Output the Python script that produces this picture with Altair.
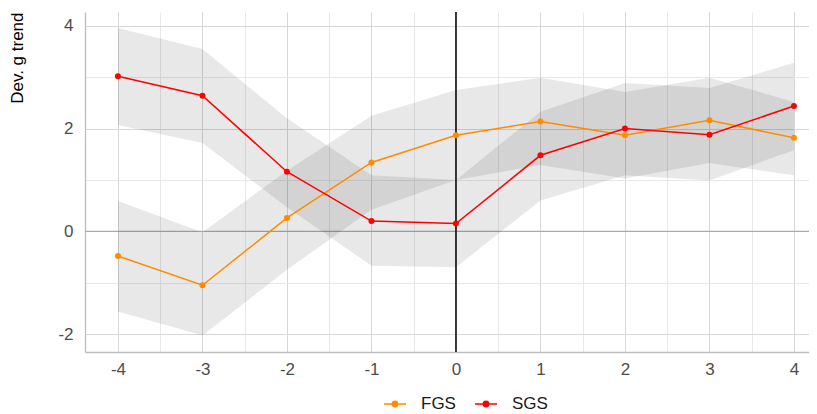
import altair as alt
import pandas as pd

# ---- data ----
periods = [-4, -3, -2, -1, 0, 1, 2, 3, 4]

fgs = [-0.48, -1.05, 0.26, 1.34, 1.87, 2.14, 1.87, 2.16, 1.82]
fgs_lo = [-1.56, -2.03, -0.75, 0.42, 1.00, 1.29, 1.03, 1.33, 1.09]
fgs_hi = [0.59, -0.02, 1.18, 2.25, 2.75, 2.99, 2.71, 2.99, 2.52]

sgs = [3.02, 2.64, 1.16, 0.20, 0.15, 1.48, 2.00, 1.88, 2.44]
sgs_lo = [2.07, 1.72, 0.47, -0.67, -0.70, 0.60, 1.09, 0.99, 1.58]
sgs_hi = [3.96, 3.55, 2.20, 1.09, 1.00, 2.33, 2.89, 2.79, 3.28]

groups = ["FGS", "SGS"]
group_colors = ["#FF8C00", "#FF0000"]

x_ticks = [-4, -3.5, -3, -2.5, -2, -1.5, -1, -0.5, 0, 0.5, 1, 1.5, 2, 2.5, 3, 3.5, 4]
y_ticks = [-2, -1, 0, 1, 2, 3, 4]
ref_zero = [0]

rows = []
for g, est, lo, hi in [("FGS", fgs, fgs_lo, fgs_hi), ("SGS", sgs, sgs_lo, sgs_hi)]:
    for p, e, l, h in zip(periods, est, lo, hi):
        rows.append({"period": p, "group": g, "est": e, "lo": l, "hi": h})
df = pd.DataFrame(rows)
zero_df = pd.DataFrame({"v": ref_zero})

FONT = "Liberation Sans"

xscale = alt.Scale(domain=[-4.39, 4.178], nice=False, zero=False)
yscale = alt.Scale(domain=[-2.35, 4.27], nice=False, zero=False)

xaxis = alt.Axis(
    values=x_ticks,
    labelExpr="datum.value % 1 === 0 ? '' + datum.value : ''",
    title=None,
    labelPadding=9,
    gridColor={"condition": {"test": "datum.value % 1 === 0", "value": "#d7d7d7"}, "value": "#e8e8e8"},
)
yaxis = alt.Axis(
    values=y_ticks,
    labelExpr="datum.value % 2 === 0 ? '' + datum.value : ''",
    title="Dev. g trend",
    titleAnchor="end",
    titlePadding=31,
    titleFontSize=17,
    titleFontWeight="normal",
    titleFont=FONT,
    titleColor="#000000",
    labelPadding=12,
    gridColor={"condition": {"test": "datum.value % 2 === 0", "value": "#d7d7d7"}, "value": "#e8e8e8"},
)

legend_path = (
    "M-1,0L1,0"
    "M-0.24,0A0.24,0.24,0,1,0,0.24,0A0.24,0.24,0,1,0,-0.24,0"
    "M-0.13,0A0.13,0.13,0,1,0,0.13,0A0.13,0.13,0,1,0,-0.13,0"
    "M-0.03,0A0.03,0.03,0,1,0,0.03,0A0.03,0.03,0,1,0,-0.03,0"
)
legend = alt.Legend(
    title=None,
    orient="none",
    direction="horizontal",
    legendX=298,
    legendY=380,
    symbolType=legend_path,
    symbolSize=484,
    symbolStrokeWidth=1.5,
    labelFont=FONT,
    labelFontSize=17,
    labelColor="#1a1a1a",
    labelOffset=14,
    columnPadding=16,
)
color = alt.Color("group:N", scale=alt.Scale(domain=groups, range=group_colors), legend=legend)

X = alt.X("period:Q", scale=xscale, axis=xaxis)

bands = alt.Chart(df).mark_area(color="black", opacity=0.09).encode(
    x=X,
    y=alt.Y("lo:Q", scale=yscale, axis=yaxis),
    y2="hi:Q",
    detail="group:N",
)

zero_line = alt.Chart(zero_df).mark_rule(color="#ababab", strokeWidth=1.3).encode(
    y=alt.Y("v:Q", scale=yscale, axis=yaxis)
)
v_line = alt.Chart(zero_df).mark_rule(color="#000000", strokeWidth=1.5).encode(
    x=alt.X("v:Q", scale=xscale, axis=xaxis)
)

lines = alt.Chart(df).mark_line(strokeWidth=1.5).encode(
    x=X,
    y=alt.Y("est:Q", scale=yscale, axis=yaxis),
    color=color,
)
points = alt.Chart(df).mark_circle(size=36, opacity=1).encode(
    x=X,
    y=alt.Y("est:Q", scale=yscale, axis=yaxis),
    color=color,
)

chart = (
    alt.layer(zero_line, bands, v_line, lines, points)
    .properties(
        width=724,
        height=340,
        autosize=alt.AutoSizeParams(type="none"),
        padding={"left": 77, "top": 4, "right": 0, "bottom": 62},
    )
    .configure_view(stroke=None)
    .configure_axis(
        labelFont=FONT,
        labelFontSize=17,
        labelColor="#4d4d4d",
        ticks=False,
        domainColor="#bdbdbd",
        domainWidth=1.3,
        gridWidth=1,
        gridOpacity=1,
    )
)

chart.save("out.html", embed_options={"renderer": "svg", "actions": False})
